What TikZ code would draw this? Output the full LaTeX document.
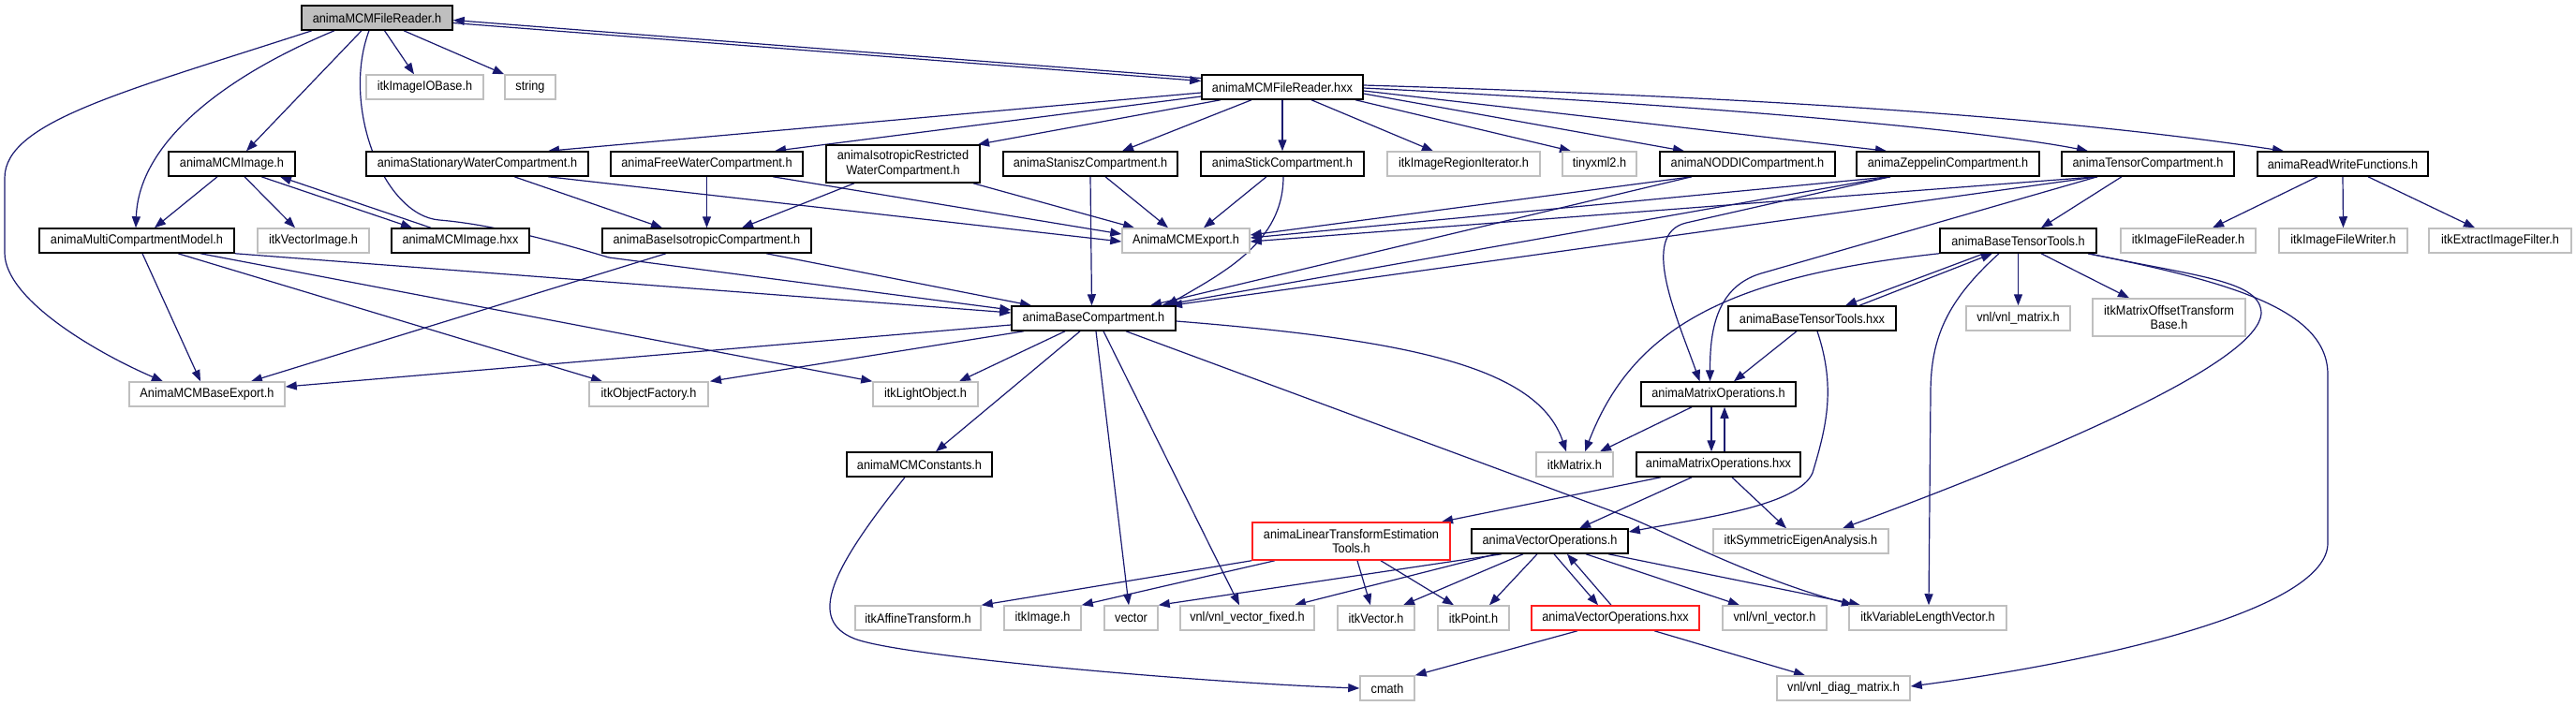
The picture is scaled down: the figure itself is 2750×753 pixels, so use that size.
\documentclass[tikz,border=0pt]{standalone}
\usepackage{fontspec}
\newfontfamily\dxf{Liberation Sans}[FakeStretch=0.91]
\usetikzlibrary{arrows.meta}
\definecolor{edgeblue}{HTML}{191970}
\definecolor{extgray}{HTML}{BFBFBF}
\definecolor{rootgray}{HTML}{BFBFBF}
\definecolor{truncred}{HTML}{FF2020}
\pgfdeclarelayer{bg}
\pgfsetlayers{bg,main}
\tikzset{
  nd/.style={draw=black, line width=1.5pt, fill=white, inner sep=0pt, minimum height=26pt,
    font=\dxf\fontsize{14}{15.5}\selectfont, text=black, align=center},
  ext/.style={nd, draw=extgray},
  trunc/.style={nd, draw=truncred},
  root/.style={nd, fill=rootgray},
  tall/.style={minimum height=40pt},
  dep/.style={draw=edgeblue, line width=1.2pt, -{Triangle[length=12pt,width=9pt]}},
}
\begin{document}
\begin{tikzpicture}[x=1pt,y=-1pt]
\useasboundingbox (0,0) rectangle (2750,753);
% Row A
\node[root, minimum width=161pt] (fr) at (402.5,19) {animaMCMFileReader.h};
% Row B
\node[ext, minimum width=125pt] (iobase) at (453.5,93) {itkImageIOBase.h};
\node[ext, minimum width=54pt] (string) at (566,93) {string};
\node[nd, minimum width=172pt] (frx) at (1369,93) {animaMCMFileReader.hxx};
% Row C
\node[nd, minimum width=135pt] (mcmimg) at (247.5,175) {animaMCMImage.h};
\node[nd, minimum width=237pt] (stat) at (509.5,175) {animaStationaryWaterCompartment.h};
\node[nd, minimum width=205pt] (free) at (754.5,175) {animaFreeWaterCompartment.h};
\node[nd, tall, minimum width=164pt] (isor) at (964,175) {animaIsotropicRestricted\\WaterCompartment.h};
\node[nd, minimum width=186pt] (stan) at (1164,175) {animaStaniszCompartment.h};
\node[nd, minimum width=174pt] (stick) at (1369,175) {animaStickCompartment.h};
\node[ext, minimum width=163pt] (regit) at (1562.5,175) {itkImageRegionIterator.h};
\node[ext, minimum width=79pt] (tiny) at (1707.5,175) {tinyxml2.h};
\node[nd, minimum width=187pt] (noddi) at (1865.5,175) {animaNODDICompartment.h};
\node[nd, minimum width=195pt] (zep) at (2079.5,175) {animaZeppelinCompartment.h};
\node[nd, minimum width=184pt] (tensor) at (2293,175) {animaTensorCompartment.h};
\node[nd, minimum width=182pt] (rw) at (2501,175) {animaReadWriteFunctions.h};
% Row D
\node[nd, minimum width=208pt] (mcm) at (146,257) {animaMultiCompartmentModel.h};
\node[ext, minimum width=119pt] (vecimg) at (334.5,257) {itkVectorImage.h};
\node[nd, minimum width=147pt] (mcmimgx) at (491.5,257) {animaMCMImage.hxx};
\node[nd, minimum width=223pt] (baseiso) at (754.5,257) {animaBaseIsotropicCompartment.h};
\node[ext, minimum width=136pt] (export) at (1266,257) {AnimaMCMExport.h};
\node[nd, minimum width=167pt] (btt) at (2154.5,257) {animaBaseTensorTools.h};
\node[ext, minimum width=144pt] (ifr) at (2336,257) {itkImageFileReader.h};
\node[ext, minimum width=137pt] (ifw) at (2501.5,257) {itkImageFileWriter.h};
\node[ext, minimum width=152pt] (extract) at (2669,257) {itkExtractImageFilter.h};
% Row E
\node[nd, minimum width=175pt] (basec) at (1167.5,340) {animaBaseCompartment.h};
\node[nd, minimum width=179pt] (bttx) at (1934.5,340) {animaBaseTensorTools.hxx};
\node[ext, minimum width=111pt] (vnlmat) at (2154.5,340) {vnl/vnl\_matrix.h};
\node[ext, tall, minimum width=163pt] (moffset) at (2315.5,339) {itkMatrixOffsetTransform\\Base.h};
% Row F
\node[ext, minimum width=166pt] (mcmbexp) at (221,421) {AnimaMCMBaseExport.h};
\node[ext, minimum width=127pt] (objf) at (692.5,421) {itkObjectFactory.h};
\node[ext, minimum width=112pt] (light) at (988,421) {itkLightObject.h};
\node[nd, minimum width=165pt] (mo) at (1834.5,421) {animaMatrixOperations.h};
% Row G
\node[nd, minimum width=155pt] (consts) at (981.5,496) {animaMCMConstants.h};
\node[ext, minimum width=82pt] (itkmat) at (1681,496) {itkMatrix.h};
\node[nd, minimum width=175pt] (mox) at (1834.5,496) {animaMatrixOperations.hxx};
% Row H
\node[trunc, tall, minimum width=211pt] (lin) at (1442.5,578) {animaLinearTransformEstimation\\Tools.h};
\node[nd, minimum width=167pt] (vo) at (1654.5,578) {animaVectorOperations.h};
\node[ext, minimum width=187pt] (symeig) at (1922.5,578) {itkSymmetricEigenAnalysis.h};
% Row I
\node[ext, minimum width=134pt] (affine) at (980,660) {itkAffineTransform.h};
\node[ext, minimum width=82pt] (itkimg) at (1113,660) {itkImage.h};
\node[ext, minimum width=57pt] (vector) at (1207.5,660) {vector};
\node[ext, minimum width=143pt] (vfixed) at (1331.5,660) {vnl/vnl\_vector\_fixed.h};
\node[ext, minimum width=82pt] (itkvec) at (1469,660) {itkVector.h};
\node[ext, minimum width=76pt] (itkpt) at (1573,660) {itkPoint.h};
\node[trunc, minimum width=179pt] (vox) at (1724.5,660) {animaVectorOperations.hxx};
\node[ext, minimum width=111pt] (vnlvec) at (1894.5,660) {vnl/vnl\_vector.h};
\node[ext, minimum width=168pt] (varlen) at (2058,660) {itkVariableLengthVector.h};
% Row J
\node[ext, minimum width=58pt] (cmath) at (1481,735) {cmath};
\node[ext, minimum width=142pt] (diag) at (1968,735) {vnl/vnl\_diag\_matrix.h};

\begin{pgfonlayer}{bg}
\fill[white] (0,0) rectangle (2750,753);
% animaMCMFileReader.h
\draw[dep] ([xshift=8]fr.south) -- ([xshift=-11.5]iobase.north);
\draw[dep] ([xshift=28.5]fr.south) -- (string.north west);
\draw[dep] ([xshift=-16.5]fr.south) -- ([xshift=15.5]mcmimg.north);
\draw[dep] ([xshift=-45.5]fr.south) .. controls +(-120,50) and +(3,-90) .. ([xshift=-1]mcm.north);
\draw[dep] ([xshift=-69.5]fr.south) .. controls +(-200,65) and +(0,-60) .. (5,190) -- (5,270) .. controls +(0,50) and +(-70,-30) .. ([xshift=-47]mcmbexp.north);
\draw[dep] ([xshift=-8.5]fr.south) .. controls +(-30,80) and +(-60,-5) .. (469,235) .. controls +(60,5) and +(-50,-15) .. (650,275) -- ([yshift=9]basec.west);
\draw[dep] ([yshift=-5.5]fr.east) -- ([yshift=6.5]frx.west);
\draw[dep] ([yshift=9.5]frx.west) -- ([yshift=-2.5]fr.east);
% animaMCMImage
\draw[dep] ([xshift=-15.5]mcmimg.south) -- ([xshift=19]mcm.north);
\draw[dep] ([xshift=13.5]mcmimg.south) -- ([xshift=-19.5]vecimg.north);
\draw[dep] ([xshift=31.5]mcmimg.south) -- ([xshift=-51.5]mcmimgx.north);
\draw[dep] ([xshift=-31.5]mcmimgx.north) -- ([xshift=51.5]mcmimg.south);
% animaMCMFileReader.hxx
\draw[dep] ([yshift=-6]frx.west) -- ([xshift=75.5]stat.north);
\draw[dep] ([yshift=-10]frx.west) -- ([xshift=72.5]free.north);
\draw[dep] ([xshift=-66]frx.south) -- ([xshift=80]isor.north);
\draw[dep] ([xshift=-33]frx.south) -- ([xshift=34]stan.north);
\draw[dep] (frx.south) -- (stick.north);
\draw[dep] ([xshift=31]frx.south) -- ([xshift=-32.5]regit.north);
\draw[dep] ([xshift=78]frx.south) -- ([xshift=-30.5]tiny.north);
\draw[dep] ([yshift=-7]frx.east) -- ([xshift=-67.5]noddi.north);
\draw[dep] ([yshift=-4]frx.east) -- ([xshift=-65.5]zep.north);
\draw[dep] ([yshift=-1]frx.east) .. controls +(400,20) and +(-100,-20) .. ([xshift=-64]tensor.north);
\draw[dep] ([yshift=2]frx.east) .. controls +(500,15) and +(-200,-30) .. ([xshift=-63]rw.north);
% compartments
\draw[dep] ([xshift=39.5]stat.south) -- ([xshift=-47.5]baseiso.north);
\draw[dep] ([xshift=75.5]stat.south) -- ([yshift=-1]export.west);
\draw[dep] (free.south) -- (baseiso.north);
\draw[dep] ([xshift=70.5]free.south) -- ([yshift=7]export.west);
\draw[dep] ([xshift=-52]isor.south) -- ([xshift=37.5]baseiso.north);
\draw[dep] ([xshift=75]isor.south) -- ([xshift=-55]export.north);
\draw[dep] (stan.south) -- ([xshift=-2]basec.north);
\draw[dep] ([xshift=16]stan.south) -- ([xshift=-19]export.north);
\draw[dep] ([xshift=-17]stick.south) -- ([xshift=19]export.north);
\draw[dep] ([xshift=1]stick.south) .. controls +(0,70) and +(60,-35) .. ([xshift=78]basec.north);
\draw[dep] ([xshift=-59.5]noddi.south) -- ([yshift=6]export.east);
\draw[dep] ([xshift=-59.5]noddi.south) -- ([xshift=60.5]basec.north);
\draw[dep] ([xshift=-61.5]zep.south) -- ([yshift=3]export.east);
\draw[dep] ([xshift=-61.5]zep.south) -- ([xshift=72.5]basec.north);
\draw[dep] ([xshift=-61.5]zep.south) -- (1800,238) .. controls +(-50,12) and +(-25,-70) .. ([xshift=-20]mo.north);
\draw[dep] ([xshift=-54]tensor.south) -- ([yshift=-1]export.east);
\draw[dep] ([xshift=-54]tensor.south) -- ([xshift=82.5]basec.north);
\draw[dep] ([xshift=-54]tensor.south) -- (1880,292) .. controls +(-50,15) and +(0,-50) .. ([xshift=-9]mo.north);
\draw[dep] ([xshift=-28]tensor.south) -- ([xshift=24.5]btt.north);
\draw[dep] ([xshift=-27]rw.south) -- ([xshift=26]ifr.north);
\draw[dep] (rw.south) -- (ifw.north);
\draw[dep] ([xshift=27]rw.south) -- ([xshift=-27]extract.north);
% base isotropic / multi compartment model
\draw[dep] ([xshift=63.5]baseiso.south) -- ([xshift=-66.5]basec.north);
\draw[dep] ([xshift=-43.5]baseiso.south) -- ([xshift=47]mcmbexp.north);
\draw[dep] ([xshift=6]mcm.south) -- ([xshift=-7]mcmbexp.north);
\draw[dep] ([xshift=44]mcm.south) -- ([xshift=-49.5]objf.north);
\draw[dep] ([xshift=68]mcm.south) -- (light.north west);
\draw[dep] (mcm.south east) -- ([yshift=6]basec.west);
% animaBaseCompartment.h
\draw[dep] ([yshift=-7]basec.west) -- ([yshift=8]mcmbexp.east);
\draw[dep] ([xshift=-74.5]basec.south) -- ([xshift=65.5]objf.north);
\draw[dep] ([xshift=-30.5]basec.south) -- ([xshift=36]light.north);
\draw[dep] ([xshift=-14.5]basec.south) -- ([xshift=17.5]consts.north);
\draw[dep] ([xshift=2.5]basec.south) -- ([xshift=-2.5]vector.north);
\draw[dep] ([xshift=10.5]basec.south) -- ([xshift=-8.5]vfixed.north);
\draw[dep] ([xshift=34.5]basec.south) -- (1740,553) .. controls +(40,16) and +(-110,-30) .. ([xshift=-80]varlen.north);
\draw[dep] ([yshift=-3]basec.east) .. controls +(250,20) and +(-30,-90) .. ([xshift=-9]itkmat.north);
% constants
\draw[dep] ([xshift=-15.5]consts.south) .. controls +(-80,100) and +(-50,-20) .. (912,682) .. controls +(50,20) and +(-150,-5) .. (cmath.west);
% matrix operations
\draw[dep] ([xshift=-7.5]mo.south) -- ([xshift=-7.5]mox.north);
\draw[dep] ([xshift=6.5]mox.north) -- ([xshift=6.5]mo.south);
\draw[dep] ([xshift=-28.5]mo.south) -- ([xshift=27]itkmat.north);
% base tensor tools
\draw[dep] (btt.south west) .. controls +(-230,25) and +(50,-130) .. ([xshift=11]itkmat.north);
\draw[dep] ([xshift=-36.5]btt.south) -- ([xshift=35.5]bttx.north);
\draw[dep] ([xshift=50.5]bttx.north) -- ([xshift=-27.5]btt.south);
\draw[dep] (btt.south) -- (vnlmat.north);
\draw[dep] ([xshift=24.5]btt.south) -- ([xshift=-42.5]moffset.north);
\draw[dep] ([xshift=-20.5]btt.south) .. controls +(-55,50) and +(0,-60) .. (2061,420) -- ([xshift=1]varlen.north);
\draw[dep] ([xshift=74.5]btt.south) .. controls +(120,25) and +(0,-35) .. (2414,335) .. controls +(-4,45) and +(283,-105) .. ([xshift=44.5]symeig.north);
\draw[dep] ([xshift=74.5]btt.south) .. controls +(150,30) and +(0,-70) .. (2485,400) -- (2485,580) .. controls +(0,70) and +(211,-28) .. ([yshift=2]diag.east);
\draw[dep] ([xshift=-16.5]bttx.south) -- ([xshift=16.5]mo.north);
\draw[dep] ([xshift=5.5]bttx.south) .. controls +(20,60) and +(15,-50) .. (1935,505) .. controls +(-15,35) and +(80,-15) .. ([yshift=10]vo.east);
% matrix operations hxx
\draw[dep] ([xshift=-61.5]mox.south) -- ([xshift=96.5]lin.north);
\draw[dep] ([xshift=-28.5]mox.south) -- ([xshift=31.5]vo.north);
\draw[dep] ([xshift=14.5]mox.south) -- ([xshift=-15.5]symeig.north);
% linear transform estimation tools
\draw[dep] (lin.south west) -- (affine.north east);
\draw[dep] ([xshift=-81.5]lin.south) -- (itkimg.north east);
\draw[dep] ([xshift=6.5]lin.south) -- ([xshift=-6]itkvec.north);
\draw[dep] ([xshift=31.5]lin.south) -- ([xshift=-21]itkpt.north);
% vector operations
\draw[dep] ([xshift=-51.5]vo.south) -- (vector.north east);
\draw[dep] ([xshift=-57.5]vo.south) -- ([xshift=50.5]vfixed.north);
\draw[dep] ([xshift=-28.5]vo.south) -- ([xshift=29]itkvec.north);
\draw[dep] ([xshift=-13.5]vo.south) -- ([xshift=17]itkpt.north);
\draw[dep] ([xshift=4.5]vo.south) -- ([xshift=-18.5]vox.north);
\draw[dep] ([xshift=-4.5]vox.north) -- ([xshift=18.5]vo.south);
\draw[dep] ([xshift=38.5]vo.south) -- ([xshift=-37.5]vnlvec.north);
\draw[dep] ([xshift=62.5]vo.south) -- ([xshift=-72]varlen.north);
\draw[dep] ([xshift=-40.5]vox.south) -- (cmath.north east);
\draw[dep] ([xshift=41.5]vox.south) -- ([xshift=-41]diag.north);
\end{pgfonlayer}
\end{tikzpicture}
\end{document}
